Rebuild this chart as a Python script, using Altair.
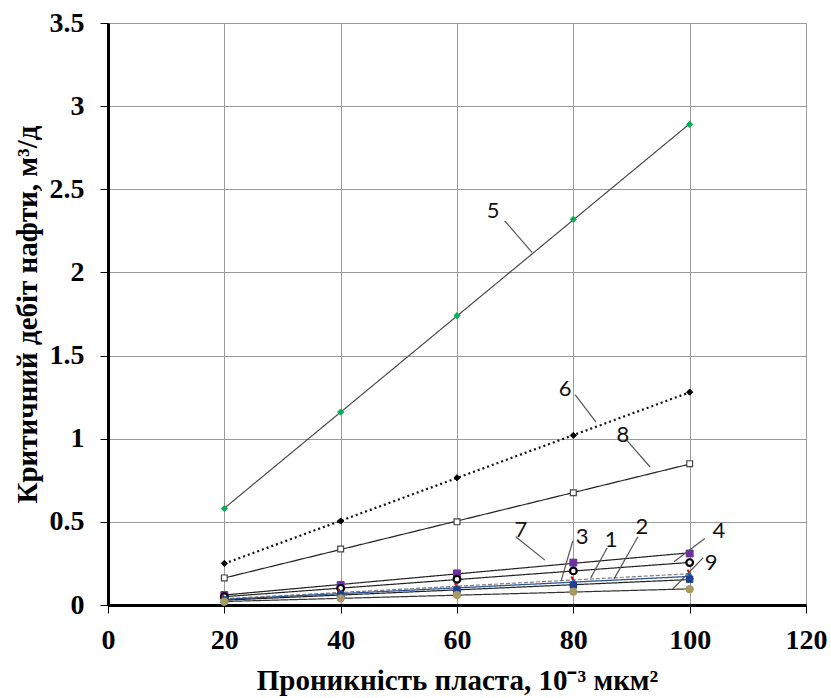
import altair as alt
import pandas as pd

# ---------------- data ----------------
x_vals = [20, 40, 60, 80, 100]

s5 = [0.58, 1.16, 1.74, 2.32, 2.89]
s6 = [0.25, 0.505, 0.765, 1.02, 1.28]
s8 = [0.163, 0.337, 0.50, 0.675, 0.85]
s7 = [0.06, 0.12, 0.19, 0.255, 0.31]
s4 = [0.05, 0.10, 0.155, 0.205, 0.255]
s1 = [0.04, 0.075, 0.11, 0.15, 0.19]
s2 = [0.035, 0.07, 0.10, 0.135, 0.175]
s3 = [0.03, 0.06, 0.09, 0.12, 0.155]
s9 = [0.02, 0.04, 0.06, 0.08, 0.095]

series_names = ["5", "6", "8", "7", "4", "1", "2", "3", "9"]
series_vals = [s5, s6, s8, s7, s4, s1, s2, s3, s9]

# annotation labels and leader lines (data units)
lab_text = ["5", "6", "8", "7", "3", "1", "2", "4", "9"]
lab_x = [66.2, 78.6, 88.5, 71.0, 81.5, 86.5, 91.8, 105.0, 103.7]
lab_y = [2.37, 1.30, 1.02, 0.45, 0.41, 0.39, 0.47, 0.446, 0.253]
lead_x0 = [68.2, 80.3, 89.2, 70.1, 79.9, 85.8, 91.1, 102.6, 102.3]
lead_y0 = [2.31, 1.265, 0.99, 0.41, 0.385, 0.343, 0.41, 0.40, 0.283]
lead_x1 = [72.9, 83.9, 93.2, 75.1, 77.9, 83.0, 87.0, 97.3, 97.1]
lead_y1 = [2.12, 1.10, 0.83, 0.27, 0.145, 0.163, 0.157, 0.26, 0.096]

x_ticks = [0, 20, 40, 60, 80, 100, 120]
y_ticks = [0, 0.5, 1, 1.5, 2, 2.5, 3, 3.5]

y_title = "Критичний дебіт нафти, м³/д"
x_title = "Проникність пласта, 10⁻³ мкм²"

# ---------------- styles ----------------
styles = {
    "5": dict(lc="#4a4a4a", dash=[1, 0], lw=1.2, shape="diamond", fill="#00b050", stroke="#00b050", size=38, sw=1),
    "6": dict(lc="#111111", dash=[2, 3], lw=2.2, shape="diamond", fill="#000000", stroke="#000000", size=38, sw=1),
    "8": dict(lc="#222222", dash=[1, 0], lw=1.2, shape="square", fill="#ffffff", stroke="#444444", size=34, sw=1.2),
    "7": dict(lc="#222222", dash=[1, 0], lw=1.2, shape="square", fill="#7030a0", stroke="#7030a0", size=48, sw=1),
    "4": dict(lc="#222222", dash=[1, 0], lw=1.2, shape="circle", fill="#ffffff", stroke="#000000", size=45, sw=2.2),
    "1": dict(lc="#7f7f7f", dash=[4, 2], lw=1.2, shape="stroke", fill="#e00000", stroke="#e00000", size=70, sw=2),
    "2": dict(lc="#2f5597", dash=[1, 0], lw=1.3, shape="triangle-up", fill="#0070c0", stroke="#0070c0", size=55, sw=1),
    "3": dict(lc="#222222", dash=[1, 0], lw=1.2, shape="square", fill="#1f3f8f", stroke="#1f3f8f", size=40, sw=1),
    "9": dict(lc="#333333", dash=[1, 0], lw=1.2, shape="circle", fill="#a89a60", stroke="#a89a60", size=55, sw=1),
}

rows = []
for name, vals in zip(series_names, series_vals):
    for xv, yv in zip(x_vals, vals):
        rows.append({"k": xv, "q": yv, "s": name})
df = pd.DataFrame(rows)

lab_df = pd.DataFrame({"t": lab_text, "x": lab_x, "y": lab_y,
                       "x0": lead_x0, "y0": lead_y0, "x1": lead_x1, "y1": lead_y1})

xs = alt.Scale(domain=[0, 120], nice=False)
ys = alt.Scale(domain=[0, 3.5], nice=False)

serif = "Liberation Serif"

x_axis = alt.Axis(values=x_ticks, title=x_title, grid=True, gridColor="#9a9a9a", gridWidth=1,
                  domainColor="#000000", domainWidth=3, tickColor="#000000", tickSize=8, tickWidth=1,
                  labelFont=serif, labelFontWeight="bold", labelFontSize=28, labelColor="#000000",
                  labelPadding=13, labelFlush=False, labelOverlap=False,
                  titleFont=serif, titleFontWeight="bold", titleFontSize=29, titleColor="#000000",
                  titlePadding=12)
y_axis = alt.Axis(values=y_ticks, format="~g", title=y_title, grid=True, gridColor="#9a9a9a", gridWidth=1,
                  domainColor="#000000", domainWidth=3, tickColor="#000000", tickSize=8, tickWidth=1,
                  labelFont=serif, labelFontWeight="bold", labelFontSize=28, labelColor="#000000",
                  labelPadding=16, labelFlush=False, labelOverlap=False,
                  titleFont=serif, titleFontWeight="bold", titleFontSize=29, titleColor="#000000",
                  titleAngle=-90, titleBaseline="middle", titleAlign="center",
                  titleX=-81, titleY=291)

base = alt.Chart(df)

layers = []
# axes carrier
layers.append(
    base.mark_point(opacity=0).encode(
        x=alt.X("k:Q", scale=xs, axis=x_axis),
        y=alt.Y("q:Q", scale=ys, axis=y_axis),
    )
)

# trend lines
for name in series_names:
    st = styles[name]
    layers.append(
        base.transform_filter(alt.datum.s == name)
        .transform_regression("k", "q")
        .mark_line(color=st["lc"], strokeDash=st["dash"], strokeWidth=st["lw"])
        .encode(x=alt.X("k:Q", scale=xs), y=alt.Y("q:Q", scale=ys))
    )

# markers
for name in series_names:
    st = styles[name]
    mk = dict(shape=st["shape"], fill=st["fill"], stroke=st["stroke"], size=st["size"],
              strokeWidth=st["sw"], filled=True, opacity=1)
    if st["shape"] == "stroke":
        mk["angle"] = 60
    layers.append(
        base.transform_filter(alt.datum.s == name)
        .mark_point(**mk)
        .encode(x=alt.X("k:Q", scale=xs), y=alt.Y("q:Q", scale=ys))
    )

# leader lines
layers.append(
    alt.Chart(lab_df).mark_rule(color="#555555", strokeWidth=1.2).encode(
        x=alt.X("x0:Q", scale=xs), y=alt.Y("y0:Q", scale=ys),
        x2="x1:Q", y2="y1:Q",
    )
)
# label text
layers.append(
    alt.Chart(lab_df).mark_text(font="Lato", fontSize=22, color="#111111",
                                align="center", baseline="middle").encode(
        x=alt.X("x:Q", scale=xs), y=alt.Y("y:Q", scale=ys), text="t:N",
    )
)

chart = alt.layer(*layers).properties(
    width=698, height=582,
    autosize=alt.AutoSizeParams(type="none"),
    padding={"left": 108, "top": 23, "right": 25, "bottom": 93},
).configure_view(
    stroke="#000000", strokeWidth=3
).configure(background="#ffffff")

chart.save("out.html", embed_options={"renderer": "svg", "actions": False})
